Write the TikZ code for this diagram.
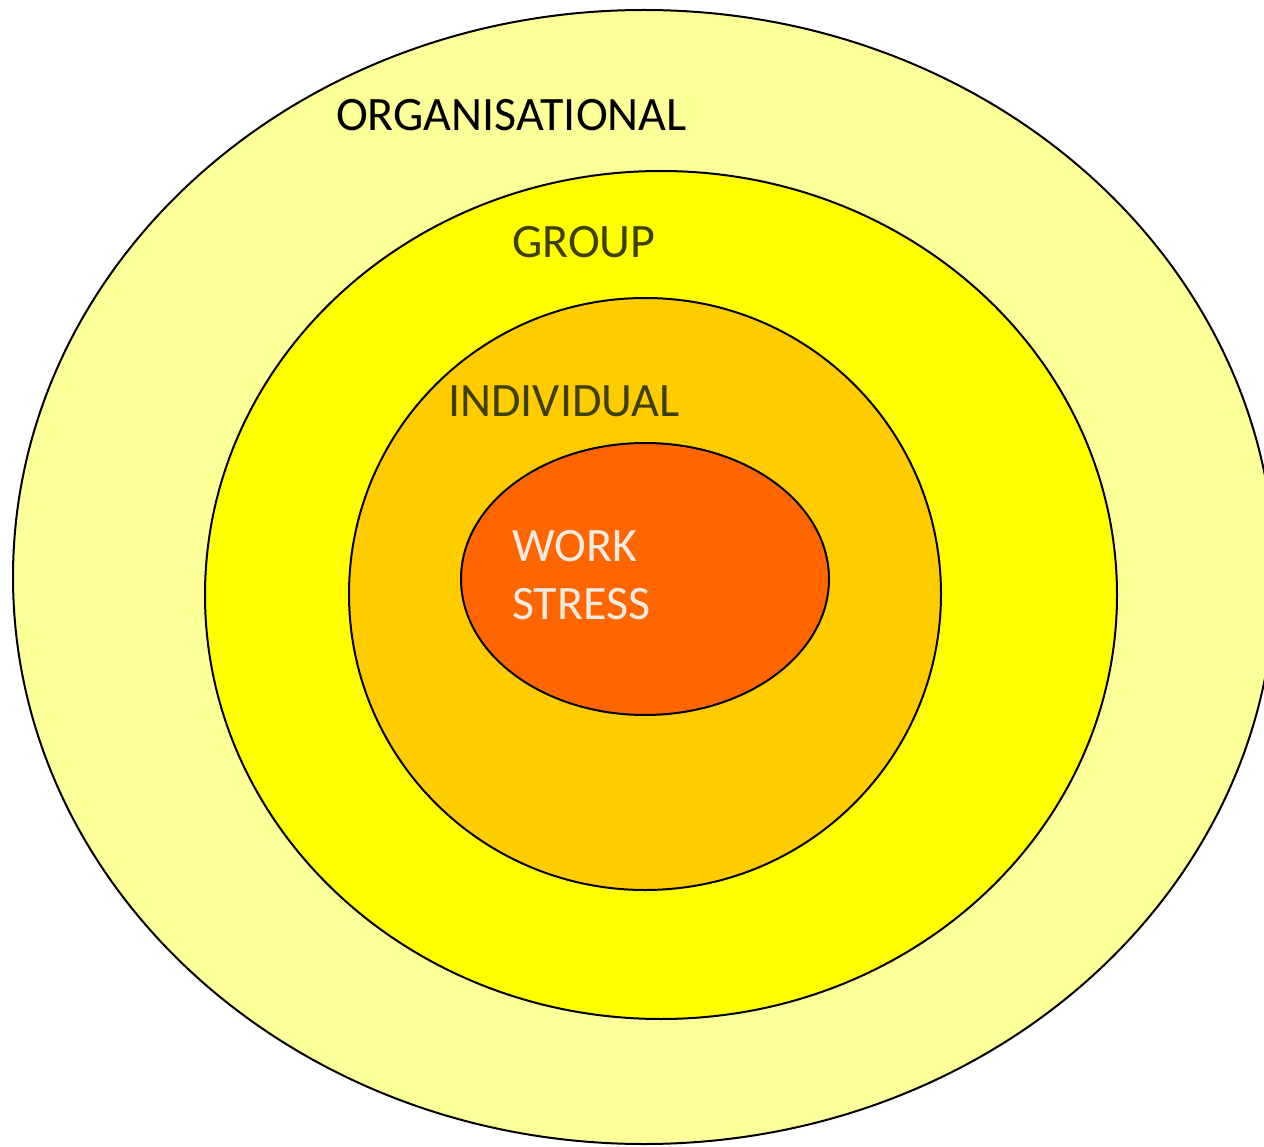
\documentclass[tikz,border=0pt]{standalone}
\usepackage{fontspec}
\setmainfont{Carlito}
\definecolor{orgfill}{HTML}{FFFF99}
\definecolor{grpfill}{HTML}{FFFF00}
\definecolor{indfill}{HTML}{FFCC00}
\definecolor{corefill}{HTML}{FF6600}
\definecolor{darkolive}{HTML}{3F3F00}
\definecolor{offwhite}{HTML}{EEECE1}
\begin{document}
\begin{tikzpicture}[x=1pt,y=-1pt,
  ring/.style={draw=black,line width=2pt},
  lbl/.style={anchor=base west,inner sep=0pt,font=\fontsize{48}{58}\selectfont}]
\useasboundingbox (0,0) rectangle (1264,1147);
\clip (0,0) rectangle (1264,1147);
% nested levels, outermost first
\fill[white] (0,0) rectangle (1264,1147);
\draw[ring,fill=orgfill]  (644,577) ellipse [x radius=631, y radius=567];
\draw[ring,fill=grpfill]  (661,595) ellipse [x radius=456, y radius=424];
\draw[ring,fill=indfill]  (645,594) ellipse [x radius=296, y radius=296];
\draw[ring,fill=corefill] (645,579) ellipse [x radius=184, y radius=136];
% level labels
\node[lbl,text=black]     (org) at (336,131) {ORGANISATIONAL};
\node[lbl,text=darkolive] (grp) at (512,258) {GROUP};
\node[lbl,text=darkolive] (ind) at (448,417) {INDIVIDUAL};
\node[lbl,text=offwhite,align=left,anchor=north west] (core) at (512,530) {WORK\\STRESS};
\end{tikzpicture}
\end{document}
